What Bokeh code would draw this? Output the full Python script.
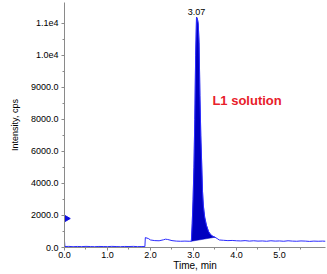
from bokeh.plotting import figure
from bokeh.models import Range1d, FixedTicker, NumeralTickFormatter, Label
from bokeh.embed import file_html
from bokeh.resources import INLINE

# Chromatogram (intensity in axis units of the drawn scale)
times = [0.0, 0.01, 0.1, 0.2, 0.3, 0.4, 0.5, 0.6, 0.7, 0.8, 0.9, 1.0, 1.1, 1.2, 1.3, 1.4,
         1.5, 1.6, 1.7, 1.8, 1.87, 1.88, 1.95, 2.0, 2.1, 2.2, 2.3, 2.35, 2.4, 2.5, 2.6,
         2.7, 2.8, 2.9,
         2.95, 2.97, 2.99, 3.01, 3.03, 3.05, 3.07, 3.09, 3.11, 3.13, 3.15, 3.17, 3.19,
         3.21, 3.23, 3.26, 3.30, 3.35, 3.40, 3.45, 3.50,
         3.55, 3.6, 3.7, 3.8, 3.9, 4.0, 4.1, 4.2, 4.3, 4.4, 4.5, 4.6, 4.7, 4.8, 4.9,
         5.0, 5.1, 5.2, 5.3, 5.4, 5.5, 5.6, 5.7, 5.8, 5.9, 6.0, 6.07]
intensity = [400, 60, 70, 50, 65, 55, 70, 60, 50, 65, 60, 55, 70, 60, 50, 65,
             60, 70, 55, 60, 60, 620, 560, 470, 430, 420, 480, 520, 500, 430, 400,
             390, 400, 390,
             390, 1500, 3000, 5000, 8000, 12000, 14400, 14300, 14000, 12800, 9500, 7000, 5300,
             3500, 2600, 1900, 1400, 1000, 800, 700, 640,
             560, 470, 450, 430, 440, 420, 410, 430, 400, 420, 400, 410, 390, 420, 400,
             410, 390, 420, 400, 390, 410, 400, 380, 400, 390, 400, 390]

# integrated peak region
peak_t = [2.95, 2.97, 2.99, 3.01, 3.03, 3.05, 3.07, 3.09, 3.11, 3.13, 3.15, 3.17, 3.19,
          3.21, 3.23, 3.26, 3.30, 3.35, 3.40, 3.45, 3.50]
peak_v = [390, 1500, 3000, 5000, 8000, 12000, 14400, 14300, 14000, 12800, 9500, 7000, 5300,
          3500, 2600, 1900, 1400, 1000, 800, 700, 640]

x_ticks = [0, 1, 2, 3, 4, 5]
x_minor = [0.5, 1.5, 2.5, 3.5, 4.5, 5.5]
y_ticks = [0, 2000, 4000, 6000, 8000, 10000, 12000, 14000]
y_labels = ["0.0", "2000.0", "4000.0", "6000.0", "8000.0", "9000.0", "1.0e4", "1.1e4"]
y_minor = [1000, 3000, 5000, 7000, 9000, 11000, 13000]

peak_rt = 3.07
peak_label = "3.07"
sample_label = "L1 solution"
marker_level = 1810

FONT = "Liberation Sans"

p = figure(width=327, height=274, output_backend="svg", toolbar_location=None,
           x_range=Range1d(0, 6.07), y_range=Range1d(0, 15310),
           min_border_left=64, min_border_right=2, min_border_top=2, min_border_bottom=27)
p.outline_line_color = None
p.xgrid.visible = False
p.ygrid.visible = False
p.background_fill_color = "white"
p.border_fill_color = "white"

p.patch(peak_t, peak_v, fill_color="#0000c0", line_color="#0000c0", line_width=0.5)
p.line(times, intensity, line_color="#2a2aff", line_width=1)
p.scatter([0.04], [marker_level], marker="triangle", angle=-1.5708, size=7,
          fill_color="#1010e0", line_color="#1010e0")

for ax in (p.xaxis[0], p.yaxis[0]):
    ax.axis_line_color = "#8a8a8a"
    ax.major_tick_line_color = "#8a8a8a"
    ax.minor_tick_line_color = "#8a8a8a"
    ax.major_tick_out = 3
    ax.major_tick_in = 0
    ax.minor_tick_out = 2
    ax.minor_tick_in = 0
    ax.major_label_text_font = FONT
    ax.major_label_text_font_size = "9px"
    ax.major_label_text_color = "black"
    ax.axis_label_text_font = FONT
    ax.axis_label_text_font_style = "normal"
    ax.axis_label_text_color = "black"

p.xaxis[0].ticker = FixedTicker(ticks=x_ticks, minor_ticks=x_minor)
p.xaxis[0].formatter = NumeralTickFormatter(format="0.0")
p.xaxis[0].axis_label = "Time, min"
p.xaxis[0].axis_label_text_font_size = "10px"
p.xaxis[0].major_label_standoff = 1
p.xaxis[0].axis_label_standoff = -1

p.yaxis[0].ticker = FixedTicker(ticks=y_ticks, minor_ticks=y_minor)
p.yaxis[0].major_label_overrides = {t: l for t, l in zip(y_ticks, y_labels)}
p.yaxis[0].axis_label = "Intensity, cps"
p.yaxis[0].axis_label_text_font_size = "9px"
p.yaxis[0].major_label_standoff = 3
p.yaxis[0].axis_label_standoff = 8

p.add_layout(Label(x=peak_rt, y=max(peak_v), text=peak_label, text_align="center",
                   text_baseline="bottom", y_offset=2, text_font=FONT,
                   text_font_size="9px", text_color="black"))
p.add_layout(Label(x=3.44, y=9190, text=sample_label, text_align="left",
                   text_baseline="middle", text_font=FONT, text_font_size="13px",
                   text_font_style="bold", text_color="#e8202a"))

open("out.html", "w").write(file_html(p, INLINE))
